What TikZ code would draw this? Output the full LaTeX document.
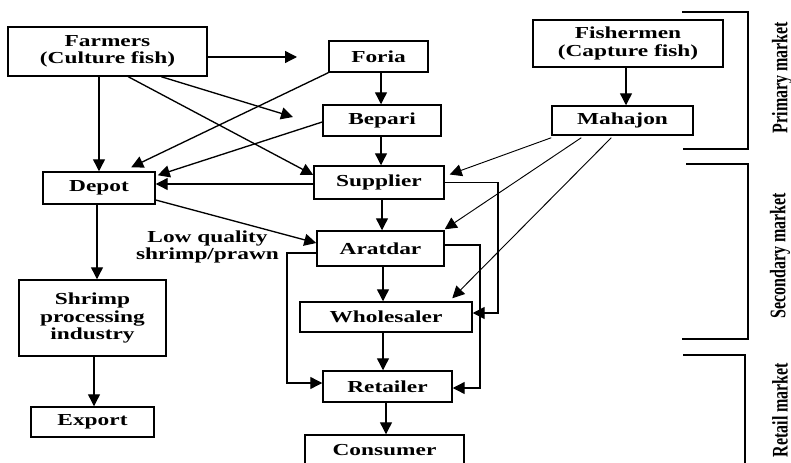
\documentclass[tikz,border=0pt]{standalone}
\usepackage{fontspec}
\setmainfont{Liberation Serif}[FakeStretch=1.39]
\newfontfamily\rotfont{Liberation Serif}
\usetikzlibrary{arrows.meta,calc}
\begin{document}
\begin{tikzpicture}[x=0.75pt,y=-0.75pt,
  box/.style={draw,line width=1.1pt,inner sep=0pt,align=center,
    font=\fontsize{12.6}{13}\selectfont\bfseries},
  arr/.style={-{Triangle[length=9pt,width=9pt]},line width=1pt},
  thinarr/.style={-{Triangle[length=9pt,width=9pt]},line width=0.7pt},
  brk/.style={line width=1.1pt},
  sidelab/.style={rotate=90,inner sep=0pt}]
\useasboundingbox (0,0) rectangle (791,463);
\clip (0,0) rectangle (791,463);
\newcommand\bx[6]{\node[box,minimum width={(#4-#2)*0.75pt},minimum height={(#5-#3)*0.75pt}] (#1) at ({(#2+#4)/2},{(#3+#5)/2}) {#6};}
\bx{Farmers}{8}{27}{207}{76}{Farmers\\(Culture fish)}
\bx{Foria}{329}{41}{428}{72}{Foria}
\bx{Bepari}{323}{105}{441}{136}{Bepari}
\bx{Supplier}{314}{166}{444}{199}{Supplier}
\bx{Aratdar}{317}{231}{444}{266}{Aratdar}
\bx{Wholesaler}{300}{302}{472}{332}{Wholesaler}
\bx{Retailer}{323}{371}{452}{402}{Retailer}
\bx{Consumer}{305}{435}{464}{466}{Consumer}
\bx{Depot}{43}{172}{155}{204}{Depot}
\bx{Shrimp}{19}{280}{166}{356}{Shrimp\\processing\\industry}
\bx{Export}{31}{407}{154}{437}{Export}
\bx{Fishermen}{533}{20}{723}{67}{Fishermen\\(Capture fish)}
\bx{Mahajon}{552}{106}{693}{135}{Mahajon}
\node[align=center,inner sep=0pt,font=\fontsize{12.6}{12.6}\selectfont\bfseries] (lq) at (207.5,247) {Low quality\\shrimp/prawn};
% column coordinates
\coordinate (k1) at (381,0);
\coordinate (k2) at (382,0);
\coordinate (k3) at (383,0);
\coordinate (k4) at (386,0);
\coordinate (k5) at (626,0);
\coordinate (k6) at (97,0);
\coordinate (k7) at (94,0);
\coordinate (fforia) at (297,57);
\coordinate (fbep) at (293,117);
\coordinate (sdy) at (0,184);
\coordinate (sw) at (498,313);
\coordinate (ar) at (480,388);
\coordinate (al) at (287,383);
% farmers
\draw[arr] ($(Farmers.east)+(0,5.5)$) -- (fforia);
\draw[arr] ($(Farmers.south west)+(154,0)$) -- (fbep);
\draw[arr] ($(Farmers.south west)+(121,0)$) -- ($(Supplier.west)+(0,-7.5)$);
\draw[arr] (Depot.north |- Farmers.south) -- (Depot.north);
% to depot
\draw[arr] (Foria.south west) -- ($(Depot.north west)+(89,-4)$);
\draw[arr] ($(Bepari.west)+(0,1.5)$) -- ($(Depot.north east)+(2,4)$);
\draw[arr] (Supplier.west |- sdy) -- (Depot.east |- sdy);
\draw[arr] ($(Depot.east)+(0,12)$) -- ($(Aratdar.west)+(0,-5.5)$);
% central column
\draw[arr] (Foria.south -| k1) -- (Bepari.north -| k1);
\draw[arr] (Bepari.south -| k1) -- (Supplier.north -| k1);
\draw[arr] (Supplier.south -| k2) -- (Aratdar.north -| k2);
\draw[arr] (Aratdar.south -| k3) -- (Wholesaler.north -| k3);
\draw[arr] (Wholesaler.south -| k3) -- (Retailer.north -| k3);
\draw[arr] (Retailer.south -| k4) -- (Consumer.north -| k4);
% fishermen
\draw[arr] (Fishermen.south -| k5) -- (Mahajon.north -| k5);
\draw[thinarr] ($(Mahajon.south west)+(0,2)$) -- ($(Supplier.east)+(5,-8)$);
\draw[thinarr] ($(Mahajon.south west)+(30,2)$) -- ($(Aratdar.north east)+(0,-1)$);
\draw[thinarr] ($(Mahajon.south west)+(60,2)$) -- ($(Wholesaler.north west)+(153,-3)$);
% loops
\draw[arr] (Supplier.east) -| (sw) -- (Wholesaler.east |- sw);
\draw[arr] ($(Aratdar.east)+(0,-3.5)$) -| (ar) -- (Retailer.east |- ar);
\draw[arr] ($(Aratdar.west)+(0,4.5)$) -| (al) -- (Retailer.west |- al);
% left column
\draw[arr] (Depot.south -| k6) -- (Shrimp.north -| k6);
\draw[arr] (Shrimp.south -| k7) -- (Export.north -| k7);
% brackets
\draw[brk] (682,12) -- (748,12) -- (748,149) -- (683,149);
\draw[brk] (686,164) -- (748,164) -- (748,339) -- (682,339);
\draw[brk] (683,355) -- (745,355) -- (745,470);
\node[sidelab] (pm) at (782,77.5) {\scalebox{1}[1.39]{\rotfont\bfseries\fontsize{12}{12}\selectfont Primary market}};
\node[sidelab] (sm) at (780,256) {\scalebox{1}[1.39]{\rotfont\bfseries\fontsize{12}{12}\selectfont Secondary market}};
\node[sidelab] (rm) at (780,410) {\scalebox{1}[1.39]{\rotfont\bfseries\fontsize{12}{12}\selectfont Retail market}};
\end{tikzpicture}
\end{document}
